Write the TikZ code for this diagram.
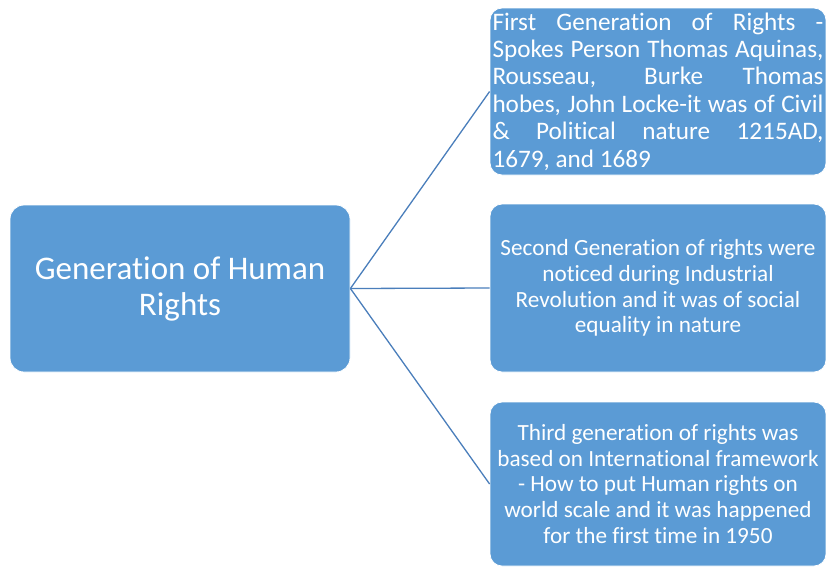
\documentclass[tikz,border=0pt]{standalone}
\usepackage{fontspec}
\setmainfont{Carlito}[Ligatures=NoCommon]
\definecolor{boxblue}{RGB}{91,155,213}
\definecolor{lineblue}{RGB}{74,126,187}
\begin{document}
\begin{tikzpicture}[x=1pt,y=-1pt,
  box/.style={rounded corners=14pt, fill=boxblue, draw=white, line width=0.8pt, text=white, inner sep=0pt, align=center},
  link/.style={draw=lineblue, line width=1.3pt}]
\useasboundingbox (0,0) rectangle (826,566);
\node[box, minimum width=340pt, minimum height=167pt, font=\fontsize{33}{36}\selectfont] (l) at (180,288.5) {Generation of Human\\Rights};
\node[box, rounded corners=12pt, minimum width=336pt, minimum height=167pt, text width=331pt, align=justify, font=\fontsize{25.2}{27.4}\selectfont] (t) at (658,91.5)
 {\hyphenpenalty=10000\relax First Generation of Rights -\linebreak Spokes Person Thomas Aquinas,\linebreak Rousseau, Burke Thomas\linebreak hobes, John Locke-it was of Civil\linebreak \& Political nature 1215AD,\linebreak 1679, and 1689};
\node[box, rounded corners=12pt, minimum width=336pt, minimum height=168pt, font=\fontsize{23.2}{25.8}\selectfont] (m) at (658,288) {Second Generation of rights were\\noticed during Industrial\\Revolution and it was of social\\equality in nature};
\node[box, rounded corners=12pt, minimum width=336pt, minimum height=164pt, font=\fontsize{23.2}{25.6}\selectfont] (b) at (658,484) {Third generation of rights was\\based on International framework\\- How to put Human rights on\\world scale and it was happened\\for the first time in 1950};
\draw[link] (l.east) -- (t.west);
\draw[link] (l.east) -- (m.west);
\draw[link] (l.east) -- (b.west);
\end{tikzpicture}
\end{document}
